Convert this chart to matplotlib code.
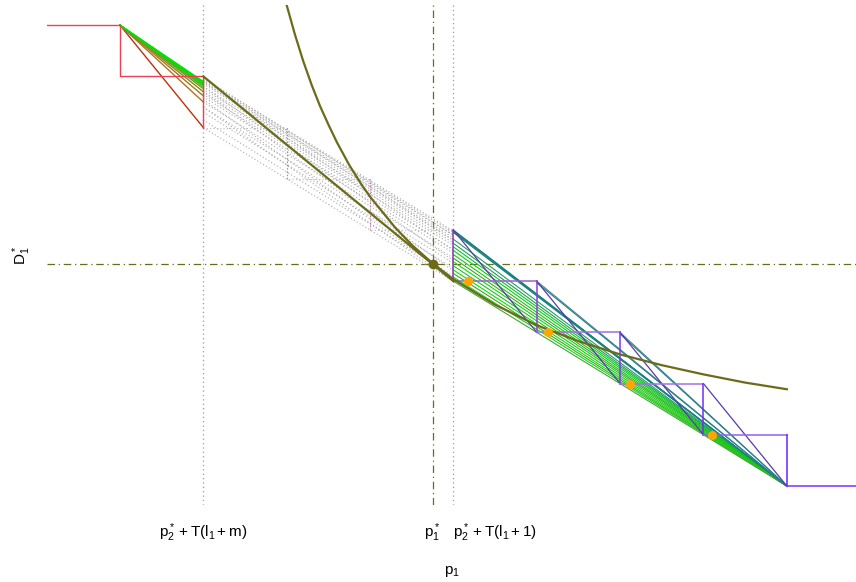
import numpy as np
import matplotlib
matplotlib.use("Agg")
from matplotlib import pyplot as plt

plt.rcParams['font.family'] = ['Liberation Sans', 'DejaVu Sans']
plt.rcParams['mathtext.fontset'] = 'custom'
plt.rcParams['mathtext.rm'] = 'Liberation Sans'
plt.rcParams['mathtext.it'] = 'Liberation Sans'
plt.rcParams['mathtext.bf'] = 'Liberation Sans:bold'

# staircase corners (price level, demand level)
step_x = [1, 2, 3, 4, 5, 6, 7, 8, 9]
step_y = [9, 8, 7, 6, 5, 4, 3, 2, 1, 0]
x_left, x_right = 0.124, 9.83

# equilibrium
p_star = 4.75
d_star = 4.34

# demand curve
curve_x = [2.95, 3.0, 3.1, 3.2, 3.3, 3.4, 3.5, 3.6, 3.75, 3.9, 4.0, 4.3, 4.5,
           4.75, 5.0, 5.5, 6.0, 6.5, 7.0, 7.5, 8.0, 8.5, 9.0]
curve_y = [9.71, 9.39, 8.81, 8.29, 7.83, 7.42, 7.06, 6.72, 6.27, 5.88, 5.65,
           5.05, 4.71, 4.35, 4.04, 3.54, 3.14, 2.83, 2.57, 2.36, 2.18, 2.02, 1.89]

# left fan: from (1, 9) to (2, y)
left_fan_y = [7.0, 7.5, 7.62, 7.7, 7.76, 7.8, 7.83, 7.85, 7.87, 7.88, 7.9]
left_fan_c = ['#c0300a', '#b8701a', '#a07a20', '#8a8a1a', '#6a9a18', '#4ab018',
              '#30c418', '#20d010', '#10d810', '#08de08', '#00e400']

# middle dotted band: from (2, ya) to (5, yb)
mid_ya = [7.95, 7.92, 7.88, 7.85, 7.8, 7.75, 7.7, 7.65, 7.6, 7.5, 7.4, 7.3, 7.15, 7.0,
          7.9, 7.8, 7.7, 7.55, 7.4, 7.97, 7.93]
mid_yb = [4.98, 4.95, 4.9, 4.85, 4.8, 4.75, 4.7, 4.62, 4.55, 4.45, 4.35, 4.25, 4.1, 4.0,
          4.6, 4.4, 4.2, 4.05, 4.0, 4.9, 4.8]

# right fan: from (5, y) to (9, 0)
teal_y = [5.0, 4.99, 4.97, 4.95]
green_y = [4.82, 4.74, 4.67, 4.6, 4.52, 4.45, 4.38, 4.3, 4.22, 4.15, 4.08, 4.0]
green_c = ['#20a060', '#2a9a50', '#10c040', '#00d800', '#20c020', '#4aa030',
           '#00e000', '#30b830', '#00e800', '#50a020', '#10d820', '#40a830']
# other corners joined to (9, 0)
corner_x = [6, 7]
corner_y = [4, 3]

# orange points
dots_x = [5.17, 6.13, 7.12, 8.10]
dots_y = [4, 3, 2, 1]

olive = '#6b6b1a'

fig = plt.figure(figsize=(8.56, 5.82), dpi=100)
ax = fig.add_axes([47 / 856, 77 / 582, 809 / 856, 500 / 582])
ax.set_xlim(x_left, x_right)
ax.set_ylim(-0.371, 9.395)
for s in ax.spines.values():
    s.set_visible(False)

# reference lines
for xv in [step_x[1], step_x[4]]:
    ax.axvline(xv, color='#999999', lw=0.9, ls=(0, (1, 2.5)))
ax.axvline(p_star, color=olive, lw=0.9, ls=(0, (6, 3, 1, 3)))
ax.axhline(d_star, color=olive, lw=0.9, ls=(0, (6, 3, 1, 3)))

# middle dotted band
for ya, yb in zip(mid_ya, mid_yb):
    ax.plot([step_x[1], step_x[4]], [ya, yb], color='#aaaaaa', lw=0.8, ls=(0, (1, 2)))
# dotted staircase in the middle
ax.plot([step_x[1], step_x[2], step_x[2], step_x[3], step_x[3], step_x[4]],
        [step_y[2], step_y[2], step_y[3], step_y[3], step_y[4], step_y[4]],
        color='#bbbbbb', lw=0.8, ls=(0, (1, 2)))
for i in [2, 3]:
    ax.plot([step_x[i], step_x[i]], [step_y[i], step_y[i + 1]], color='#cc66aa',
            lw=0.8, ls=(0, (1, 2)))

# left fan
for yv, c in zip(left_fan_y, left_fan_c):
    ax.plot([step_x[0], step_x[1]], [step_y[0], yv], color=c, lw=1.0)

# red staircase
ax.plot([x_left, step_x[0], step_x[0], step_x[1], step_x[1]],
        [step_y[0], step_y[0], step_y[1], step_y[1], step_y[2]],
        color='#ec4055', lw=1.0)

# right fan
for yv, c in zip(green_y, green_c):
    ax.plot([step_x[4], step_x[8]], [yv, step_y[9]], color=c, lw=0.8)
for yv in teal_y:
    ax.plot([step_x[4], step_x[8]], [yv, step_y[9]], color='#1a8080', lw=0.8)
for cx, cy in zip(corner_x, corner_y):
    ax.plot([cx, step_x[8]], [cy, step_y[9]], color='#4a80a0', lw=0.8)
    ax.plot([cx, step_x[8]], [cy - 0.03, step_y[9]], color='#208080', lw=0.8)

# purple diagonals across each step
for i in range(4, 8):
    ax.plot([step_x[i], step_x[i + 1]], [step_y[i], step_y[i + 2]], color='#5a3aaa', lw=0.9)

# purple staircase
purples = ['#8a3ab8', '#9a60d0', '#8a40d8', '#9a70e0', '#7a38e8', '#a070e8', '#7030f0', '#9060f0', '#6a20ff', '#7a30ff']
for i in range(4, 9):
    ax.plot([step_x[i], step_x[i]], [step_y[i], step_y[i + 1]], color=purples[2 * (i - 4)], lw=1.1)
    xe = step_x[i + 1] if i < 8 else x_right
    ax.plot([step_x[i], xe], [step_y[i + 1], step_y[i + 1]], color=purples[2 * (i - 4) + 1], lw=1.1)

# olive demand curve and chord
ax.plot(curve_x, curve_y, color=olive, lw=1.6)
ax.plot([step_x[1], step_x[4]], [step_y[1], step_y[5]], color=olive, lw=1.6)
ax.plot([p_star], [d_star], 'o', color=olive, ms=7, mec='none')
ax.plot(dots_x, dots_y, 'o', color='#ffa500', ms=6.5, mec='none')

# labels
ax.set_xticks([step_x[1], p_star, step_x[4]])
ax.set_xticklabels([r'$p_2^* + T(l_1 + m)$', r'$p_1^*$', r'$p_2^* + T(l_1 + 1)$'], fontsize=11)
ax.get_xticklabels()[2].set_horizontalalignment('left')
ax.tick_params(axis='x', length=0, pad=12)
ax.set_yticks([])
ax.set_xlabel(r'$p_1$', fontsize=11, labelpad=14)
ax.set_ylabel(r'$D_1^*$', fontsize=11, labelpad=10)

fig.savefig('out.png', dpi=100)
